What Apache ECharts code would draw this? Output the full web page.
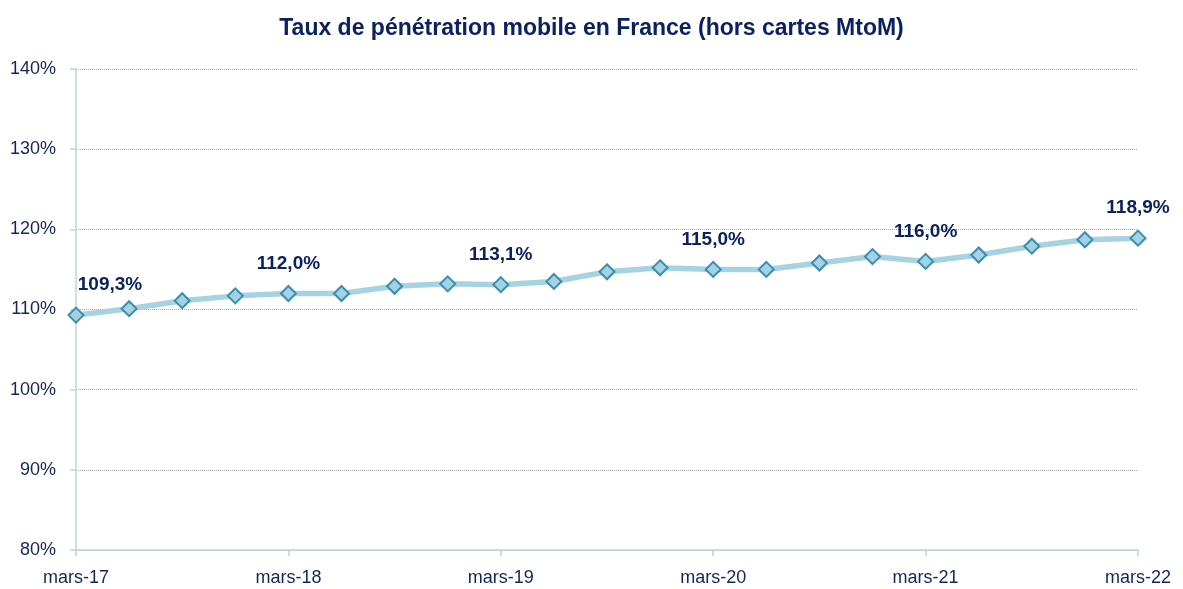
<!DOCTYPE html>
<html>
<head>
<meta charset="utf-8">
<script src="https://cdn.jsdelivr.net/npm/echarts@6/dist/echarts.min.js"></script>
<style>
  html, body { margin: 0; padding: 0; background: #fff; }
  #chart { width: 1183px; height: 589px; }
</style>
</head>
<body>
<div id="chart"></div>
<script>
// trimestres mars-17 -> mars-22
const categories = [
  'mars-17', 'juin-17', 'sept-17', 'déc-17',
  'mars-18', 'juin-18', 'sept-18', 'déc-18',
  'mars-19', 'juin-19', 'sept-19', 'déc-19',
  'mars-20', 'juin-20', 'sept-20', 'déc-20',
  'mars-21', 'juin-21', 'sept-21', 'déc-21',
  'mars-22'
]
const penetration = [
  109.3, 110.1, 111.1, 111.7,
  112.0, 112.0, 112.9, 113.2,
  113.1, 113.5, 114.7, 115.2,
  115.0, 115.0, 115.8, 116.6,
  116.0, 116.8, 117.9, 118.7,
  118.9
]
// seuls les mois de mars portent une étiquette
const labelledIdx = [0, 4, 8, 12, 16, 20]
const yTicks = [80, 90, 100, 110, 120, 130, 140]

const navy = '#10275e'
const font = '"Liberation Sans", Arial, sans-serif'

const chart = echarts.init(document.getElementById('chart'))

const seriesData = penetration.map((v, i) => {
  if (!labelledIdx.includes(i)) return v
  return {
    value: v,
    label: {
      show: true,
      offset: i === 0 ? [34, 0] : [0, 0]
    }
  }
})

chart.setOption({
  animation: false,
  title: {
    text: 'Taux de pénétration mobile en France (hors cartes MtoM)',
    left: 'center',
    top: 12,
    textStyle: { fontSize: 23, fontWeight: 'bold', color: '#0b2160', fontFamily: font }
  },
  grid: { left: 76, right: 45, top: 69, bottom: 39, containLabel: false },
  xAxis: {
    type: 'category',
    boundaryGap: false,
    data: categories,
    axisLine: { lineStyle: { color: '#c3d1da', width: 1.5 } },
    axisTick: { show: true, interval: 3, length: 6, lineStyle: { color: '#c3d1da', width: 1.5 } },
    axisLabel: {
      interval: 3,
      margin: 19,
      color: navy,
      fontSize: 18,
      fontFamily: font
    },
    splitLine: { show: false }
  },
  yAxis: {
    type: 'value',
    min: yTicks[0],
    max: yTicks[yTicks.length - 1],
    interval: 10,
    axisLine: { show: true, lineStyle: { color: '#c3d1da', width: 1.5 } },
    axisTick: { show: true, length: 6, lineStyle: { color: '#c3d1da', width: 1.5 } },
    axisLabel: {
      formatter: '{value}%',
      margin: 20,
      color: navy,
      fontSize: 18,
      fontFamily: font
    },
    splitLine: { lineStyle: { color: '#a6a6a6', type: [1, 1], width: 1 } }
  },
  series: [{
    name: 'Taux de pénétration',
    type: 'line',
    data: seriesData,
    symbol: 'diamond',
    symbolSize: 15,
    lineStyle: { color: '#a6d3e3', width: 5.5 },
    itemStyle: { color: '#a3d2e3', borderColor: '#3a8db2', borderWidth: 2 },
    label: {
      show: false,
      position: 'top',
      distance: 12,
      formatter: p => p.value.toFixed(1).replace('.', ',') + '%',
      color: '#0b2160',
      fontSize: 19,
      fontWeight: 'bold',
      fontFamily: font
    },
    z: 3
  }]
})
</script>
</body>
</html>
